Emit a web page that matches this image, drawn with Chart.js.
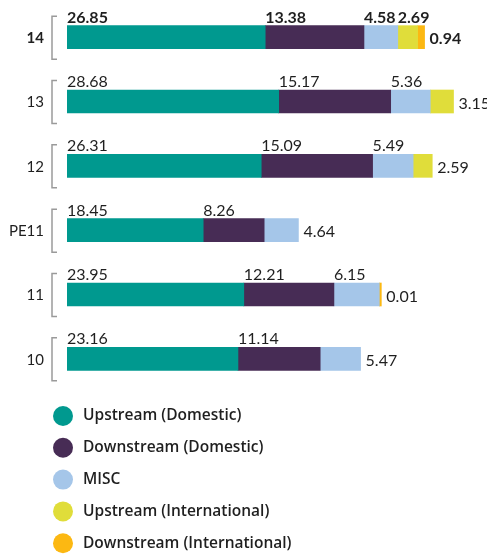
<!DOCTYPE html>
<html>
<head>
<meta charset="utf-8">
<script src="https://cdn.jsdelivr.net/npm/chart.js@4"></script>
<style>
  html, body { margin: 0; padding: 0; background: #fff; }
  #wrap { width: 487px; height: 554px; }
</style>
</head>
<body>
<div id="wrap"><canvas id="chart" width="487" height="554"></canvas></div>
<script>
// years, top to bottom
const years = ['14', '13', '12', 'PE11', '11', '10'];

// series values
const upstreamDomestic = [26.85, 28.68, 26.31, 18.45, 23.95, 23.16];
const downstreamDomestic = [13.38, 15.17, 15.09, 8.26, 12.21, 11.14];
const misc = [4.58, 5.36, 5.49, 4.64, 6.15, 5.47];
const upstreamIntl = [2.69, 3.15, 2.59, null, null, null];
const downstreamIntl = [0.94, null, null, null, 0.01, null];

const seriesNames = ['Upstream (Domestic)', 'Downstream (Domestic)', 'MISC', 'Upstream (International)', 'Downstream (International)'];
const seriesColors = ['#00998f', '#472c55', '#a5c6e9', '#e0dd3a', '#fcb812'];

const FONT = 'Lato, "Open Sans", sans-serif';
const TEXT = '#1f1f1f';

// value labels, brackets and the year labels
const labelPlugin = {
    id: 'labels',
    afterDatasetsDraw(chart) {
        const ctx = chart.ctx;
        const yScale = chart.scales.y;
        const metas = chart.data.datasets.map((_, d) => chart.getDatasetMeta(d));
        ctx.save();
        years.forEach((year, i) => {
            const bold = i === 0;
            const cy = yScale.getPixelForValue(i);

            // year label
            ctx.fillStyle = TEXT;
            ctx.font = (bold ? '700 ' : '400 ') + '15px ' + FONT;
            ctx.textAlign = 'right';
            ctx.textBaseline = 'middle';
            ctx.fillText(year, 44, cy + 1);

            // bracket
            ctx.strokeStyle = '#9a9a9a';
            ctx.lineWidth = 1.5;
            ctx.beginPath();
            ctx.moveTo(57, cy - 21);
            ctx.lineTo(52, cy - 21);
            ctx.lineTo(52, cy + 22);
            ctx.lineTo(57, cy + 22);
            ctx.stroke();

            // last segment of this bar
            let last = -1;
            chart.data.datasets.forEach((ds, d) => { if (ds.data[i] != null) last = d; });

            chart.data.datasets.forEach((ds, d) => {
                const v = ds.data[i];
                if (v == null) return;
                const el = metas[d].data[i];
                const txt = v.toFixed(2);
                ctx.fillStyle = TEXT;
                ctx.font = (bold ? '700 ' : '400 ') + '16px ' + FONT;
                ctx.textAlign = 'left';
                if (d === last) {
                    ctx.textBaseline = 'middle';
                    ctx.fillText(txt, Math.max(el.x, el.base) + 5, el.y + 2);
                } else {
                    ctx.textBaseline = 'alphabetic';
                    ctx.fillText(txt, Math.min(el.x, el.base), el.y - el.height / 2 - 3);
                }
            });
        });

        // legend
        chart.data.datasets.forEach((ds, d) => {
            const ly = 416 + d * 31.8;
            ctx.fillStyle = ds.backgroundColor;
            ctx.beginPath();
            ctx.arc(63, ly, 10, 0, Math.PI * 2);
            ctx.fill();
            ctx.fillStyle = TEXT;
            ctx.font = '600 15.5px "Open Sans", Lato, sans-serif';
            ctx.textAlign = 'left';
            ctx.textBaseline = 'middle';
            ctx.fillText(ds.label, 83, ly);
        });
        ctx.restore();
    }
};

const seriesData = [upstreamDomestic, downstreamDomestic, misc, upstreamIntl, downstreamIntl];

new Chart(document.getElementById('chart'), {
    type: 'bar',
    data: {
        labels: years,
        datasets: seriesData.map((data, d) => ({
            label: seriesNames[d],
            data: data,
            backgroundColor: seriesColors[d],
            borderWidth: 0,
            barThickness: 23,
            minBarLength: d === 4 ? 2 : 0,
        })),
    },
    options: {
        indexAxis: 'y',
        responsive: false,
        animation: false,
        layout: { padding: { left: 67, right: 14, top: 5, bottom: 163 } },
        scales: {
            x: { stacked: true, min: 0, max: 55, display: false },
            y: { stacked: true, display: false },
        },
        plugins: {
            legend: { display: false },
            tooltip: { enabled: false },
        },
    },
    plugins: [labelPlugin],
});
</script>
</body>
</html>
